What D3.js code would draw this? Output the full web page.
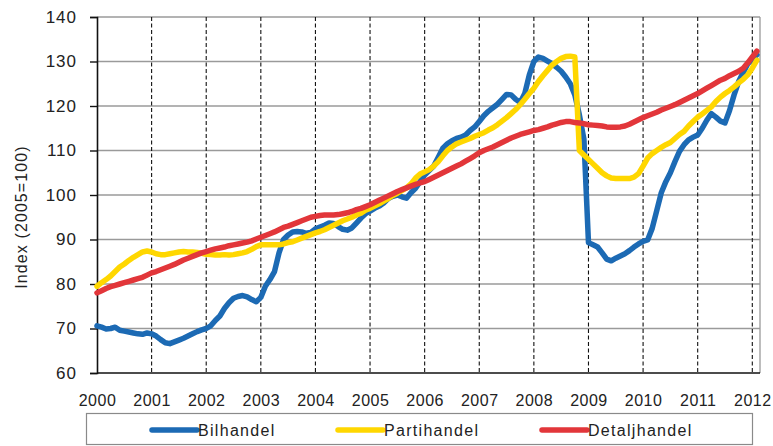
<!DOCTYPE html>
<html>
<head>
<meta charset="utf-8">
<script src="https://cdn.jsdelivr.net/npm/d3@7"></script>
<style>
  html, body { margin: 0; padding: 0; background: #ffffff; }
  svg { display: block; font-family: "Liberation Sans", Arial, sans-serif; }
</style>
</head>
<body>
<svg id="chart" width="773" height="446"></svg>
<script>
// ---------- DATA (monthly index values, Jan 2000 .. Feb 2012) ----------
const startYear = 2000;
const seriesNames = ["Bilhandel", "Partihandel", "Detaljhandel"];
const xTickLabels = ["2000","2001","2002","2003","2004","2005","2006","2007","2008","2009","2010","2011","2012"];
const yTickLabels = [60, 70, 80, 90, 100, 110, 120, 130, 140];
const yAxisTitle = "Index (2005=100)";

const bilhandel = [
  70.6,70.3,69.9,70.0,70.3,69.6,69.4,69.2,69.0,68.8,68.7,69.0,
  68.8,68.3,67.5,66.8,66.6,67.0,67.4,67.8,68.3,68.8,69.3,69.7,
  70.0,70.6,71.8,72.8,74.5,75.8,76.8,77.2,77.4,77.1,76.5,76.0,
  77.0,79.5,81.0,82.8,87.0,90.0,91.0,91.7,91.8,91.7,91.4,91.6,
  92.4,92.8,93.2,93.7,93.6,92.9,92.3,92.1,92.6,93.7,94.8,95.8,
  96.4,97.0,97.5,98.2,99.2,99.7,100.0,99.6,99.3,100.5,101.5,103.0,
  104.5,105.5,106.5,108.5,110.5,111.5,112.2,112.7,113.0,113.5,114.5,115.3,
  116.5,117.8,118.8,119.6,120.4,121.5,122.6,122.5,121.5,120.8,122.8,127.0,
  130.0,131.0,130.7,130.1,129.5,128.7,127.8,126.5,125.0,122.5,118.0,112.5,
  89.3,88.8,88.3,87.0,85.6,85.2,85.8,86.3,86.8,87.5,88.3,89.0,
  89.6,89.9,92.5,96.5,100.5,103.0,105.0,107.5,109.8,111.3,112.4,113.0,
  113.5,115.0,116.8,118.3,117.5,116.6,116.2,119.0,122.5,125.5,127.5,129.5,
  130.5,131.5
];
const partihandel = [
  79.5,80.3,81.0,81.8,82.8,83.8,84.5,85.3,86.0,86.6,87.2,87.4,
  87.2,86.8,86.6,86.6,86.8,87.0,87.2,87.3,87.2,87.2,87.1,86.9,
  86.7,86.6,86.5,86.5,86.6,86.5,86.6,86.8,87.0,87.3,87.8,88.4,
  88.8,88.8,88.8,88.8,88.8,89.0,89.3,89.5,89.9,90.3,90.7,91.1,
  91.5,91.8,92.2,92.7,93.2,93.7,94.2,94.6,95.0,95.5,95.9,96.6,
  97.0,97.5,98.0,98.6,99.2,99.9,100.4,101.0,101.6,102.5,103.8,104.7,
  105.2,105.7,106.5,107.5,108.8,110.0,110.8,111.5,111.9,112.3,112.7,113.2,
  113.6,114.0,114.6,115.1,115.8,116.6,117.4,118.3,119.2,120.3,121.5,122.8,
  124.0,125.5,126.8,128.0,129.2,130.0,130.7,131.1,131.2,131.0,110.0,109.0,
  108.0,107.0,106.0,105.0,104.3,103.8,103.7,103.7,103.7,103.7,104.0,104.8,
  106.5,108.3,109.3,110.0,110.7,111.3,111.8,112.7,113.6,114.3,115.5,116.5,
  117.5,118.2,119.0,119.8,121.0,122.0,122.8,123.5,124.3,125.2,126.0,127.0,
  128.5,130.3
];
const detaljhandel = [
  78.0,78.5,79.0,79.4,79.7,80.0,80.3,80.6,80.9,81.2,81.5,82.0,
  82.5,82.8,83.2,83.6,84.0,84.4,84.9,85.4,85.8,86.2,86.6,87.0,
  87.3,87.6,87.9,88.1,88.3,88.6,88.8,89.0,89.2,89.4,89.7,90.1,
  90.5,90.9,91.3,91.7,92.2,92.7,93.0,93.4,93.8,94.2,94.6,95.0,
  95.2,95.4,95.5,95.5,95.5,95.6,95.8,96.0,96.3,96.7,97.0,97.4,
  97.8,98.3,98.8,99.3,99.8,100.3,100.8,101.2,101.6,102.0,102.4,102.7,
  103.0,103.5,104.0,104.5,105.0,105.5,106.0,106.5,107.0,107.6,108.2,108.8,
  109.5,110.0,110.4,110.8,111.3,111.8,112.3,112.8,113.2,113.6,113.9,114.2,
  114.5,114.7,115.0,115.3,115.7,116.0,116.3,116.5,116.5,116.3,116.2,116.0,
  115.8,115.7,115.6,115.5,115.3,115.2,115.2,115.3,115.5,115.9,116.4,116.9,
  117.4,117.8,118.2,118.6,119.1,119.5,119.9,120.3,120.8,121.3,121.8,122.3,
  122.8,123.4,124.0,124.6,125.2,125.8,126.2,126.8,127.3,127.8,128.5,129.7,
  131.0,132.3
];
const seriesColors = ["#1c6ab4", "#ffd700", "#e2363a"];

// ---------- CHART ----------
const svg = d3.select("#chart");
const W = 773, H = 446;
svg.append("rect").attr("width", W).attr("height", H).attr("fill", "#fff");

const plotLeft = 97, plotRight = 760, plotTop = 17, plotBottom = 373;
const x = d3.scaleLinear().domain([2000, 2012]).range([plotLeft, 752.3]);
const y = d3.scaleLinear().domain([60, 140]).range([plotBottom, plotTop]);
const xEnd = x.invert(plotRight);

// horizontal grid
const gGrid = svg.append("g");
gGrid.selectAll("line.h").data(yTickLabels.filter(v => v > 60)).enter().append("line")
  .attr("x1", plotLeft).attr("x2", plotRight)
  .attr("y1", d => y(d)).attr("y2", d => y(d))
  .attr("stroke", "#9a9a9a").attr("stroke-width", 1.3);
// vertical dashed grid
gGrid.selectAll("line.v").data(xTickLabels.slice(1).map(Number)).enter().append("line")
  .attr("x1", d => x(d)).attr("x2", d => x(d))
  .attr("y1", plotTop).attr("y2", plotBottom)
  .attr("stroke", "#111").attr("stroke-width", 1.1)
  .attr("stroke-dasharray", "4,2.5");
// right border
gGrid.append("line").attr("x1", x(xEnd)).attr("x2", x(xEnd))
  .attr("y1", plotTop).attr("y2", plotBottom)
  .attr("stroke", "#9a9a9a").attr("stroke-width", 1.3);

// y axis
const yAxis = d3.axisLeft(y).tickValues(yTickLabels).tickSize(7).tickPadding(13).tickFormat(d3.format("d"));
const gy = svg.append("g").attr("transform", `translate(${plotLeft},0)`).call(yAxis);
gy.select(".domain").attr("stroke", "#111").attr("stroke-width", 1.6);
gy.selectAll(".tick line").attr("stroke", "#111").attr("stroke-width", 1.4);
gy.selectAll(".tick text").attr("font-size", 17).attr("fill", "#222")
  .attr("font-family", "'Liberation Sans', Arial, sans-serif").attr("letter-spacing", "1px");

// x axis
const xAxis = d3.axisBottom(x).tickValues(xTickLabels.map(Number)).tickSize(0).tickPadding(22).tickFormat(d3.format("d"));
const gx = svg.append("g").attr("transform", `translate(0,${plotBottom})`).call(xAxis);
gx.select(".domain").remove();
gx.append("line").attr("x1", plotLeft).attr("x2", x(xEnd)).attr("y1", 0).attr("y2", 0)
  .attr("stroke", "#111").attr("stroke-width", 1.6);
gx.selectAll(".tick text").attr("font-size", 16).attr("fill", "#222")
  .attr("font-family", "'Liberation Sans', Arial, sans-serif").attr("letter-spacing", "0.5px");

// y axis title
svg.append("text")
  .attr("transform", `translate(27,${217}) rotate(-90)`)
  .attr("text-anchor", "middle")
  .attr("font-size", 16).attr("fill", "#222").attr("letter-spacing", "1.1px")
  .text(yAxisTitle);

// lines
const allSeries = [bilhandel, partihandel, detaljhandel];
const line = d3.line()
  .x((d, i) => x(startYear + i / 12))
  .y(d => y(d));
const gLines = svg.append("g");
allSeries.forEach((vals, k) => {
  gLines.append("path").datum(vals)
    .attr("d", line)
    .attr("fill", "none")
    .attr("stroke", seriesColors[k])
    .attr("stroke-width", 5.5)
    .attr("stroke-linejoin", "round")
    .attr("stroke-linecap", "round");
});

// legend
const legendBox = { x: 86, y: 413, w: 666, h: 32 };
const gLeg = svg.append("g");
gLeg.append("rect").attr("x", legendBox.x + 0.5).attr("y", legendBox.y + 0.5)
  .attr("width", legendBox.w).attr("height", legendBox.h - 1)
  .attr("fill", "#fff").attr("stroke", "#8a8a8a").attr("stroke-width", 1.2);
const legendX = [152, 338, 542];
seriesNames.forEach((name, k) => {
  const cy = legendBox.y + 17;
  gLeg.append("line").attr("x1", legendX[k]).attr("x2", legendX[k] + 45)
    .attr("y1", cy).attr("y2", cy)
    .attr("stroke", seriesColors[k]).attr("stroke-width", 5.5).attr("stroke-linecap", "round");
  gLeg.append("text").attr("x", legendX[k] + 46).attr("y", cy + 6)
    .attr("font-size", 16).attr("fill", "#222").attr("letter-spacing", "1.3px")
    .text(name);
});
</script>
</body>
</html>
